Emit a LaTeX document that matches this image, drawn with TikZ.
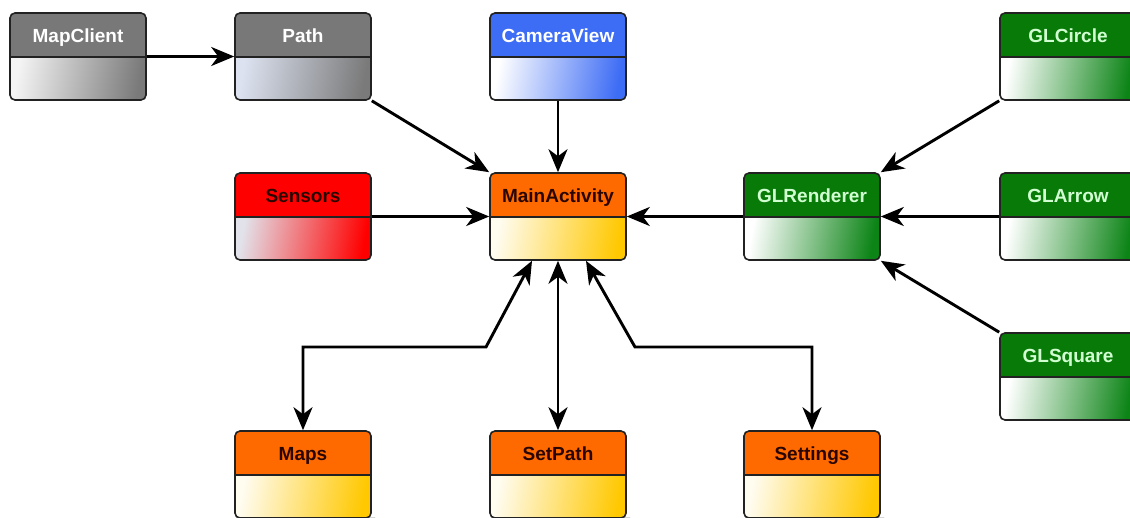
\documentclass[tikz,border=0pt]{standalone}
\usepackage{fontspec}
\setmainfont{Liberation Sans}
\usetikzlibrary{arrows.meta,backgrounds}
\definecolor{grayhead}{HTML}{787878}
\definecolor{graylow}{HTML}{7A7A7A}
\definecolor{graywhite}{HTML}{F4F4F4}
\definecolor{bluewhite}{HTML}{DCE2F0}
\definecolor{bluehead}{HTML}{3D6CF5}
\definecolor{orangehead}{HTML}{FF6A00}
\definecolor{goldlow}{HTML}{FFC800}
\definecolor{creamwhite}{HTML}{FFFCF0}
\definecolor{redhead}{HTML}{FF0000}
\definecolor{redwhite}{HTML}{E2E2EA}
\definecolor{greenhead}{HTML}{087A08}
\definecolor{greenlow}{HTML}{0C8416}
\definecolor{greentext}{HTML}{D2FFD2}
\definecolor{darktext}{HTML}{2A0600}
\definecolor{edgecol}{HTML}{222222}
\tikzset{
  classbox/.style n args={4}{
    draw=edgecol, line width=1.6pt, rounded corners=5pt,
    minimum width=136pt, inner xsep=0pt, inner ysep=0pt,
    text height=29pt, text depth=58pt,
    font=\bfseries\fontsize{19}{20}\selectfont, text=#4,
    path picture={
      \fill[#1, sharp corners] (path picture bounding box.north west) rectangle ([yshift=-44pt]path picture bounding box.north east);
      \shade[sharp corners, left color=#2, right color=#3, shading angle=80] ([yshift=-44pt]path picture bounding box.north west) rectangle (path picture bounding box.south east);
      \draw[edgecol, line width=1.6pt, sharp corners] ([yshift=-44pt]path picture bounding box.north west) -- ([yshift=-44pt]path picture bounding box.north east);
    }},
  graybox/.style={classbox={grayhead}{graywhite}{graylow}{white}},
  pathbox/.style={classbox={grayhead}{bluewhite}{graylow}{white}},
  bluebox/.style={classbox={bluehead}{white}{bluehead}{white}},
  orangebox/.style={classbox={orangehead}{creamwhite}{goldlow}{darktext}},
  redbox/.style={classbox={redhead}{redwhite}{redhead}{darktext}},
  greenbox/.style={classbox={greenhead}{white}{greenlow}{greentext}},
  conn/.style={draw=black, line width=2.9pt, -{Stealth[length=23pt,width=19pt,inset=7pt]}},
  dconn/.style={draw=black, line width=2.9pt, {Stealth[length=23pt,width=19pt,inset=7pt]}-{Stealth[length=23pt,width=19pt,inset=7pt]}},
  boxshadow/.style={fill=black!16, rounded corners=5pt}
}
\begin{document}
\begin{tikzpicture}[x=1pt,y=-1pt]
\useasboundingbox (0,0) rectangle (1130,517);
\fill[white] (0,0) rectangle (1130,517);
% nodes
\node[graybox]   (mapclient) at (78,56.5)    {MapClient};
\node[pathbox]   (path)      at (303,56.5)   {Path};
\node[bluebox]   (camera)    at (558,56.5)   {CameraView};
\node[greenbox]  (glcircle)  at (1068,56.5)  {GLCircle};
\node[redbox]    (sensors)   at (303,216.5)  {Sensors};
\node[orangebox] (main)      at (558,216.5)  {MainActivity};
\node[greenbox]  (glrender)  at (812,216.5)  {GLRenderer};
\node[greenbox]  (glarrow)   at (1068,216.5) {GLArrow};
\node[greenbox]  (glsquare)  at (1068,376.5) {GLSquare};
\node[orangebox] (maps)      at (303,474.5)  {Maps};
\node[orangebox] (setpath)   at (558,474.5)  {SetPath};
\node[orangebox] (settings)  at (812,474.5)  {Settings};
% shadows
\begin{scope}[on background layer]
\foreach \n in {mapclient,path,camera,glcircle,sensors,main,glrender,glarrow,glsquare,maps,setpath,settings}{
  \fill[boxshadow] ([shift={(2pt,-3pt)}]\n.north west) rectangle ([shift={(3.5pt,-3.5pt)}]\n.south east);
}
\end{scope}
% bend points
\coordinate (mapsbendA) at (486,347);
\coordinate (mapsbendB) at (303,347);
\coordinate (setbendA) at (635,347);
\coordinate (setbendB) at (812,347);
% connectors
\draw[conn] (mapclient.east) -- (path.west);
\draw[conn] (path.south east) -- (main.north west);
\draw[conn] (camera.south) -- (main.north);
\draw[conn] (sensors.east) -- (main.west);
\draw[conn] (glrender.west) -- (main.east);
\draw[conn] (glcircle.south west) -- (glrender.north east);
\draw[conn] (glarrow.west) -- (glrender.east);
\draw[conn] (glsquare.north west) -- (glrender.south east);
\draw[dconn] ([xshift=-26pt]main.south) -- (mapsbendA) -- (mapsbendB) -- (maps.north);
\draw[dconn] (main.south) -- (setpath.north);
\draw[dconn] ([xshift=28pt]main.south) -- (setbendA) -- (setbendB) -- (settings.north);
\end{tikzpicture}
\end{document}
